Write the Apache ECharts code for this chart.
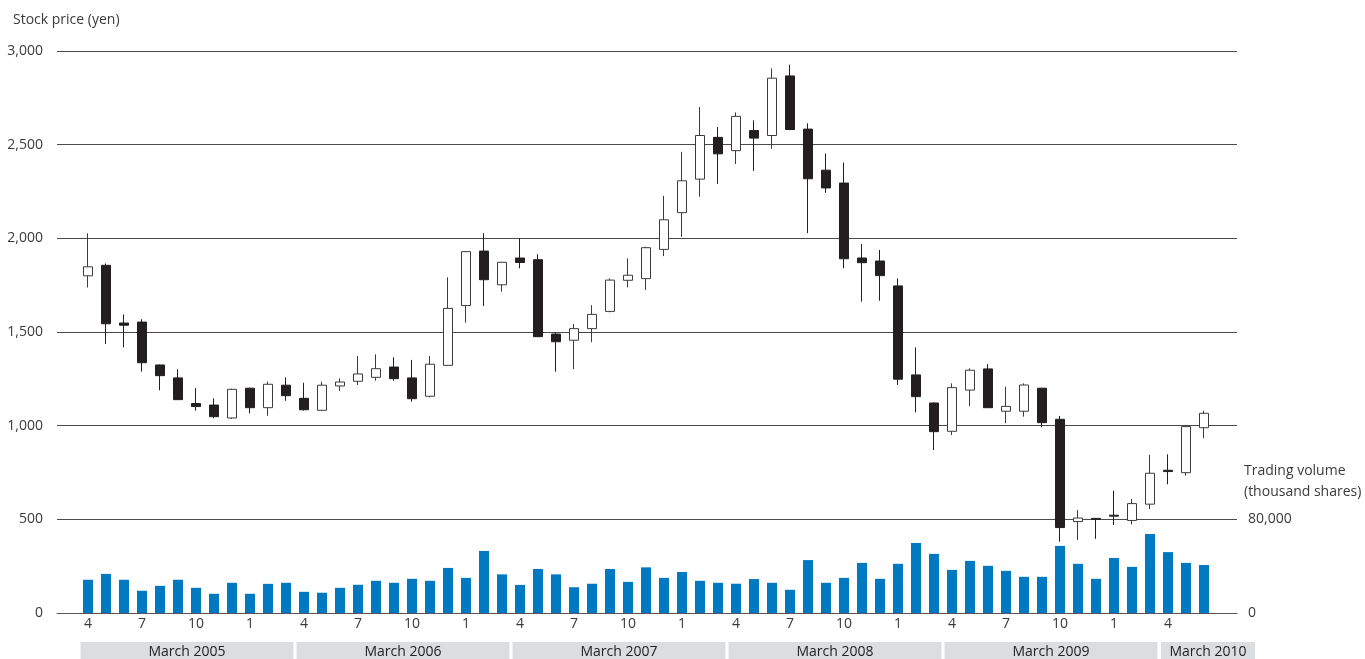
<!DOCTYPE html>
<html>
<head>
<meta charset="utf-8">
<script src="https://cdn.jsdelivr.net/npm/echarts@6/dist/echarts.min.js"></script>
<style>
  html, body { margin: 0; padding: 0; background: #fff; }
  #chart { width: 1365px; height: 659px; }
</style>
</head>
<body>
<div id="chart"></div>
<script>
// Monthly periods, April 2004 – June 2009
const months = [
  '2004.4','2004.5','2004.6','2004.7','2004.8','2004.9','2004.10','2004.11','2004.12',
  '2005.1','2005.2','2005.3','2005.4','2005.5','2005.6','2005.7','2005.8','2005.9','2005.10','2005.11','2005.12',
  '2006.1','2006.2','2006.3','2006.4','2006.5','2006.6','2006.7','2006.8','2006.9','2006.10','2006.11','2006.12',
  '2007.1','2007.2','2007.3','2007.4','2007.5','2007.6','2007.7','2007.8','2007.9','2007.10','2007.11','2007.12',
  '2008.1','2008.2','2008.3','2008.4','2008.5','2008.6','2008.7','2008.8','2008.9','2008.10','2008.11','2008.12',
  '2009.1','2009.2','2009.3','2009.4','2009.5','2009.6'
];

// Monthly stock price (yen)
const openPrice = [
  1800, 1856, 1548, 1553, 1324, 1255, 1118, 1110, 1041,
  1200, 1096, 1216, 1146, 1082, 1212, 1237, 1258, 1313, 1255, 1157, 1322,
  1641, 1932, 1752, 1895, 1886, 1489, 1456, 1518, 1610, 1776, 1785, 1941,
  2137, 2316, 2539, 2468, 2575, 2549, 2867, 2583, 2364, 2295, 1895, 1879,
  1746, 1271, 1121, 970, 1190, 1303, 1077, 1077, 1200, 1034, 488, 505,
  522, 494, 581, 762, 749, 989
];
const closePrice = [
  1848, 1544, 1536, 1336, 1267, 1139, 1102, 1048, 1194,
  1096, 1221, 1160, 1085, 1216, 1233, 1276, 1304, 1251, 1144, 1328, 1626,
  1929, 1779, 1872, 1871, 1475, 1448, 1518, 1594, 1777, 1803, 1950, 2099,
  2307, 2549, 2451, 2651, 2535, 2855, 2581, 2318, 2269, 1891, 1870, 1801,
  1248, 1155, 968, 1203, 1296, 1096, 1103, 1217, 1016, 456, 507, 500,
  517, 584, 746, 755, 995, 1066
];
const lowPrice = [
  1738, 1436, 1418, 1288, 1189, 1137, 1080, 1040, 1036,
  1066, 1053, 1133, 1080, 1078, 1185, 1217, 1240, 1240, 1128, 1151, 1320,
  1550, 1639, 1715, 1840, 1473, 1288, 1302, 1445, 1605, 1738, 1725, 1905,
  2008, 2222, 2291, 2397, 2360, 2478, 2577, 2028, 2243, 1840, 1662, 1667,
  1217, 1071, 870, 950, 1105, 1094, 1013, 1048, 991, 381, 390, 396,
  470, 473, 555, 687, 733, 933
];
const highPrice = [
  2027, 1866, 1594, 1568, 1326, 1301, 1201, 1146, 1197,
  1203, 1235, 1258, 1229, 1235, 1253, 1372, 1381, 1365, 1351, 1372, 1792,
  1932, 2027, 1875, 2000, 1915, 1498, 1543, 1643, 1786, 1893, 1955, 2227,
  2462, 2701, 2594, 2672, 2630, 2907, 2927, 2614, 2453, 2405, 1970, 1938,
  1786, 1418, 1124, 1226, 1306, 1329, 1208, 1226, 1202, 1052, 549, 507,
  653, 609, 844, 847, 1000, 1080
];

// Monthly trading volume (thousand shares)
const volume = [
  28400, 33400, 28400, 19000, 23200, 28400, 21500, 16400, 25800,
  16400, 24900, 25800, 18100, 17300, 21500, 24100, 27500, 25800, 29200, 27500, 38500,
  30000, 53000, 33000, 24000, 37600, 33000, 22000, 25000, 37600, 26600, 39000, 30000,
  35000, 27500, 25800, 25000, 29000, 25800, 19800, 45200, 25800, 30000, 42800, 29200,
  42000, 59800, 50500, 36800, 44500, 40300, 36000, 30900, 30900, 57300, 42000, 29200,
  47000, 39400, 67500, 52000, 42800, 41000
];

// Fiscal years (ending in March) shown under the month ticks
const fiscalYears = ['March 2005', 'March 2006', 'March 2007', 'March 2008', 'March 2009', 'March 2010'];
const fiscalCenters = [5.5, 17.5, 29.5, 41.5, 53.5, 62.22];

// Month ticks every quarter
const monthTicks = [0, 3, 6, 9, 12, 15, 18, 21, 24, 27, 30, 33, 36, 39, 42, 45, 48, 51, 54, 57, 60];

const FONT = '"Open Sans", "Noto Sans", sans-serif';
const TEXT = '#3a3a3a';

const candleData = months.map((m, i) => [i, openPrice[i], closePrice[i], lowPrice[i], highPrice[i]]);
const volumeData = months.map((m, i) => [i, volume[i]]);

const chart = echarts.init(document.getElementById('chart'), null, { renderer: 'canvas' });

chart.setOption({
  animation: false,
  backgroundColor: '#ffffff',
  textStyle: { fontFamily: FONT },
  title: [
    {
      text: 'Stock price (yen)',
      left: 8, top: 8,
      textStyle: { fontFamily: FONT, fontSize: 14, fontWeight: 'normal', color: TEXT }
    },
    {
      text: 'Trading volume\n(thousand shares)',
      left: 1239, top: 456,
      textStyle: { fontFamily: FONT, fontSize: 14, fontWeight: 'normal', color: TEXT, lineHeight: 21 }
    }
  ],
  grid: { left: 57, right: 128, top: 51, bottom: 46, containLabel: false, outerBoundsMode: 'none' },
  xAxis: [
    {
      type: 'value',
      min: -1.7222,
      max: 63.8333,
      splitLine: { show: false },
      axisLine: { show: true, lineStyle: { color: '#555', width: 1 } },
      axisTick: { show: false },
      axisLabel: {
        customValues: monthTicks,
        margin: 4,
        fontFamily: FONT,
        fontSize: 14,
        color: TEXT,
        formatter: v => months[Math.round(v)].split('.')[1]
      }
    },
    {
      type: 'value',
      position: 'bottom',
      min: -1.7222,
      max: 63.8333,
      splitLine: { show: false },
      axisLine: { show: false },
      axisTick: { show: false },
      axisLabel: {
        customValues: fiscalCenters,
        margin: 29,
        formatter: v => {
          const k = fiscalCenters.indexOf(v);
          return (k === fiscalCenters.length - 1 ? '{last|' : '{band|') + fiscalYears[k] + '}';
        },
        rich: {
          band: {
            width: 213, height: 20, lineHeight: 20, align: 'center',
            backgroundColor: '#dcdddf', color: '#222', fontFamily: FONT, fontSize: 14
          },
          last: {
            width: 94, height: 20, lineHeight: 20, align: 'center',
            backgroundColor: '#dcdddf', color: '#222', fontFamily: FONT, fontSize: 14
          }
        }
      }
    }
  ],
  yAxis: [
    {
      type: 'value',
      min: 0, max: 3000, interval: 500,
      axisLine: { show: false },
      axisTick: { show: false },
      splitLine: { show: true, lineStyle: { color: '#4a4a4a', width: 1 } },
      axisLabel: {
        margin: 14,
        fontFamily: FONT, fontSize: 14, color: TEXT,
        formatter: v => v.toLocaleString('en-US')
      }
    },
    {
      type: 'value',
      min: 0, max: 480000, interval: 80000,
      position: 'right',
      axisLine: { show: false },
      axisTick: { show: false },
      splitLine: { show: false },
      axisLabel: {
        customValues: [0, 80000],
        margin: 11,
        fontFamily: FONT, fontSize: 14, color: TEXT,
        formatter: v => v.toLocaleString('en-US')
      }
    }
  ],
  series: [
    {
      name: 'Trading volume',
      type: 'bar',
      xAxisIndex: 0,
      yAxisIndex: 1,
      barWidth: 10,
      itemStyle: { color: '#0079c1' },
      data: volumeData,
      z: 2
    },
    {
      name: 'Stock price',
      type: 'candlestick',
      xAxisIndex: 0,
      yAxisIndex: 0,
      barWidth: 10,
      itemStyle: {
        color: '#ffffff',
        color0: '#231f20',
        borderColor: '#3c3c3c',
        borderColor0: '#231f20',
        borderColorDoji: '#231f20',
        borderWidth: 1
      },
      data: candleData,
      z: 3
    }
  ]
});
</script>
</body>
</html>
